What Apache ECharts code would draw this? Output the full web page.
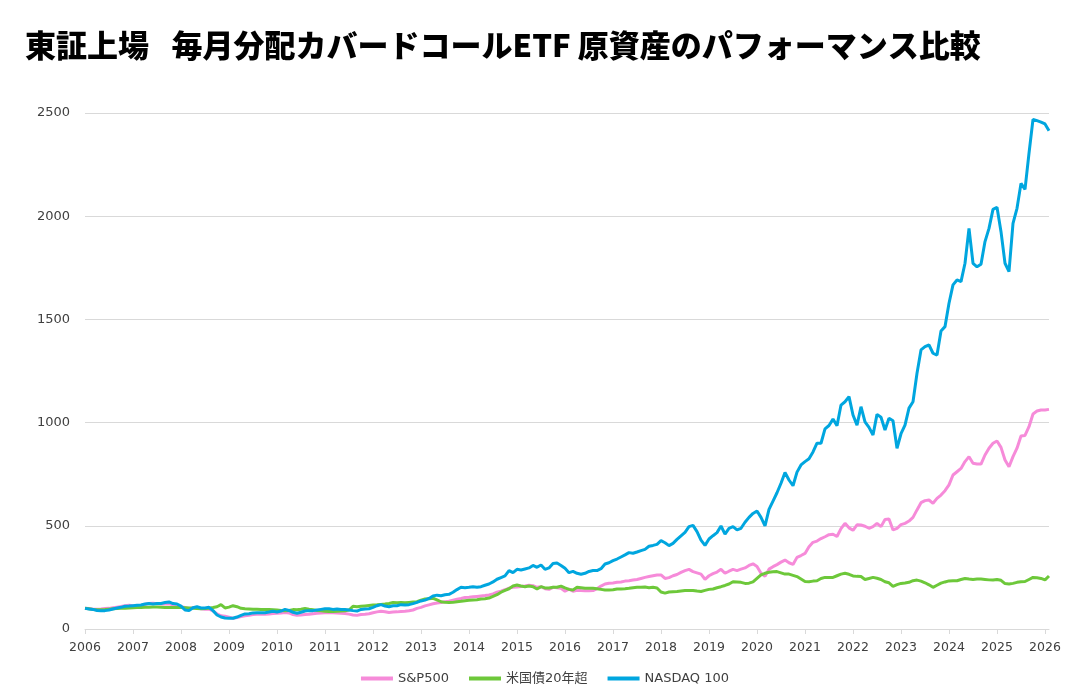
<!DOCTYPE html>
<html>
<head>
<meta charset="utf-8">
<script src="https://cdn.jsdelivr.net/npm/echarts@6/dist/echarts.min.js"></script>
<style>
html,body{margin:0;padding:0;background:#fff;}
#chart{width:1090px;height:698px;}
</style>
</head>
<body>
<div id="chart"></div>
<script>
// Monthly data, Jan 2006 .. Feb 2026 (index 100 = Jan 2006)
const startYear = 2006;
const yearTicks = ['2006','2007','2008','2009','2010','2011','2012','2013','2014','2015','2016','2017','2018','2019','2020','2021','2022','2023','2024','2025','2026'];
const seriesNames = ['S&P500', '米国債20年超', 'NASDAQ 100'];

const sp500 = [
100,99,96,96,97,99,100,103,106,109,113,115,
113,112,114,119,124,125,122,121,121,122,117,115,
108,104,100,103,104,98,96,96,88,73,64,62,
57,52,56,60,64,66,70,71,72,72,73,75,
76,77,80,78,70,66,68,70,71,74,76,78,
79,80,79,77,76,75,72,68,66,70,71,74,
79,83,86,84,80,82,83,85,86,88,92,100,
105,112,117,122,126,128,132,135,140,144,148,153,
154,156,158,160,162,165,170,178,183,190,198,202,
203,206,208,212,210,202,205,195,192,202,200,197,
183,193,183,188,186,185,185,186,195,208,218,222,
223,226,228,232,234,237,240,245,250,254,258,262,
262,245,249,258,264,274,283,289,278,272,266,241,
258,268,276,289,270,280,289,283,290,296,308,316,
303,270,255,290,302,312,324,334,321,313,347,356,
366,399,420,426,438,447,457,459,448,486,512,490,
478,505,504,498,488,496,512,496,531,533,480,488,
506,512,523,541,577,612,622,625,609,633,649,670,
698,746,762,778,811,835,803,799,799,843,876,900,
911,880,819,786,835,876,935,938,980,1042,1056,1061,
1061,1064
];

const ustreasury20 = [
100,98,95,93,93,94,96,98,99,100,101,102,
103,104,104,105,105,106,106,105,104,104,104,104,
104,103,102,100,99,98,99,101,104,108,118,102,
106,113,108,100,98,97,96,96,95,95,94,93,
92,90,89,90,94,93,96,100,96,93,90,88,
86,85,85,86,87,88,92,110,108,110,112,114,
116,117,119,121,124,128,127,128,127,129,131,132,
140,145,147,149,141,132,129,128,129,132,134,137,
139,141,142,145,147,150,158,166,178,187,195,208,
213,208,205,208,205,194,205,199,199,202,202,208,
199,192,189,202,200,197,197,197,195,192,189,189,
190,194,194,195,197,200,202,202,203,200,202,199,
179,174,179,181,182,184,186,187,187,184,182,187,
192,194,200,205,211,218,229,228,226,221,222,228,
245,262,270,275,277,278,272,266,266,260,254,242,
230,229,232,234,245,250,250,250,258,266,270,265,
257,255,254,240,245,250,246,240,229,224,207,215,
221,223,226,234,237,232,224,214,202,212,222,228,
233,234,234,240,245,242,240,242,242,240,238,237,
240,236,220,218,221,226,229,230,240,250,248,245,
238,257
];

const nasdaq100 = [
100,97,95,90,89,89,92,97,102,105,110,111,
113,115,116,121,123,121,123,124,128,131,123,121,
111,92,89,103,108,102,102,105,89,68,58,53,
52,52,58,66,73,74,78,79,79,79,82,86,
82,87,95,90,81,76,81,87,89,89,92,95,
98,98,95,97,95,94,92,89,87,95,97,98,
105,113,118,111,108,113,113,118,116,118,123,129,
136,140,148,160,164,161,166,168,178,191,202,200,
202,205,202,205,212,218,228,241,249,257,283,273,
289,286,291,296,308,299,310,289,296,317,320,308,
294,273,279,270,265,270,279,283,283,292,315,321,
331,339,349,359,370,367,373,380,386,401,405,410,
428,418,404,415,434,451,468,496,502,472,431,405,
436,452,467,499,460,488,496,480,488,517,541,560,
572,541,500,580,620,660,706,758,722,694,760,795,
811,825,858,900,900,970,986,1017,985,1085,1101,1126,
1037,988,1077,1004,977,940,1040,1026,964,1021,1009,875,
946,988,1070,1101,1239,1352,1368,1376,1336,1327,1444,1465,
1578,1667,1691,1683,1772,1941,1772,1755,1767,1877,1941,2033,
2043,1925,1772,1731,1965,2038,2159,2130,2305,2469,2463,2456,
2447,2414
];

// month categories
const months = [];
for (let i = 0; i < nasdaq100.length; i++) {
  const y = startYear + Math.floor(i / 12);
  const m = (i % 12) + 1;
  months.push(y + '/' + (m < 10 ? '0' + m : m));
}
const isYearStart = (idx) => idx % 12 === 0;

const colors = ['#F68BD9', '#6DC83A', '#00A6DF'];
const axisFont = 'DejaVu Sans, Verdana, sans-serif';

const chart = echarts.init(document.getElementById('chart'));
chart.setOption({
  animation: false,
  backgroundColor: '#ffffff',
  color: colors,
  title: {
    text: '東証上場\u2002 毎月分配カバードコールETF 原資産のパフォーマンス比較',
    left: 20,
    top: 25,
    textStyle: {
      fontFamily: 'Noto Sans CJK JP',
      fontWeight: 900,
      fontSize: 31,
      color: '#000000'
    }
  },
  legend: {
    bottom: 8,
    left: 'center',
    itemWidth: 32,
    itemHeight: 4,
    itemGap: 20,
    icon: 'rect',
    textStyle: {
      fontFamily: 'DejaVu Sans, Noto Sans CJK JP, sans-serif',
      fontSize: 13,
      color: '#404040'
    },
    data: seriesNames
  },
  grid: {
    left: 85,
    right: 41,
    top: 113,
    bottom: 69,
    containLabel: false
  },
  xAxis: {
    type: 'category',
    data: months,
    boundaryGap: false,
    axisLine: { show: true, lineStyle: { color: '#d9d9d9', width: 1 } },
    axisTick: { show: true, interval: (idx) => isYearStart(idx), length: 5, lineStyle: { color: '#d9d9d9' } },
    axisLabel: {
      interval: (idx) => isYearStart(idx),
      formatter: (val, idx) => yearTicks[idx / 12] || '',
      fontFamily: axisFont,
      fontSize: 12.5,
      color: '#404040',
      margin: 12
    },
    splitLine: { show: false }
  },
  yAxis: {
    type: 'value',
    min: 0,
    max: 2500,
    interval: 500,
    axisLine: { show: false },
    axisTick: { show: false },
    axisLabel: {
      formatter: (v) => String(v),
      fontFamily: axisFont,
      fontSize: 13,
      color: '#404040',
      margin: 15
    },
    splitLine: { lineStyle: { color: '#d9d9d9', width: 1 } }
  },
  series: [
    { name: seriesNames[0], type: 'line', data: sp500, symbol: 'none', lineStyle: { width: 3, color: colors[0] }, itemStyle: { color: colors[0] } },
    { name: seriesNames[1], type: 'line', data: ustreasury20, symbol: 'none', lineStyle: { width: 3, color: colors[1] }, itemStyle: { color: colors[1] } },
    { name: seriesNames[2], type: 'line', data: nasdaq100, symbol: 'none', lineStyle: { width: 3, color: colors[2] }, itemStyle: { color: colors[2] } }
  ]
});
</script>
</body>
</html>
